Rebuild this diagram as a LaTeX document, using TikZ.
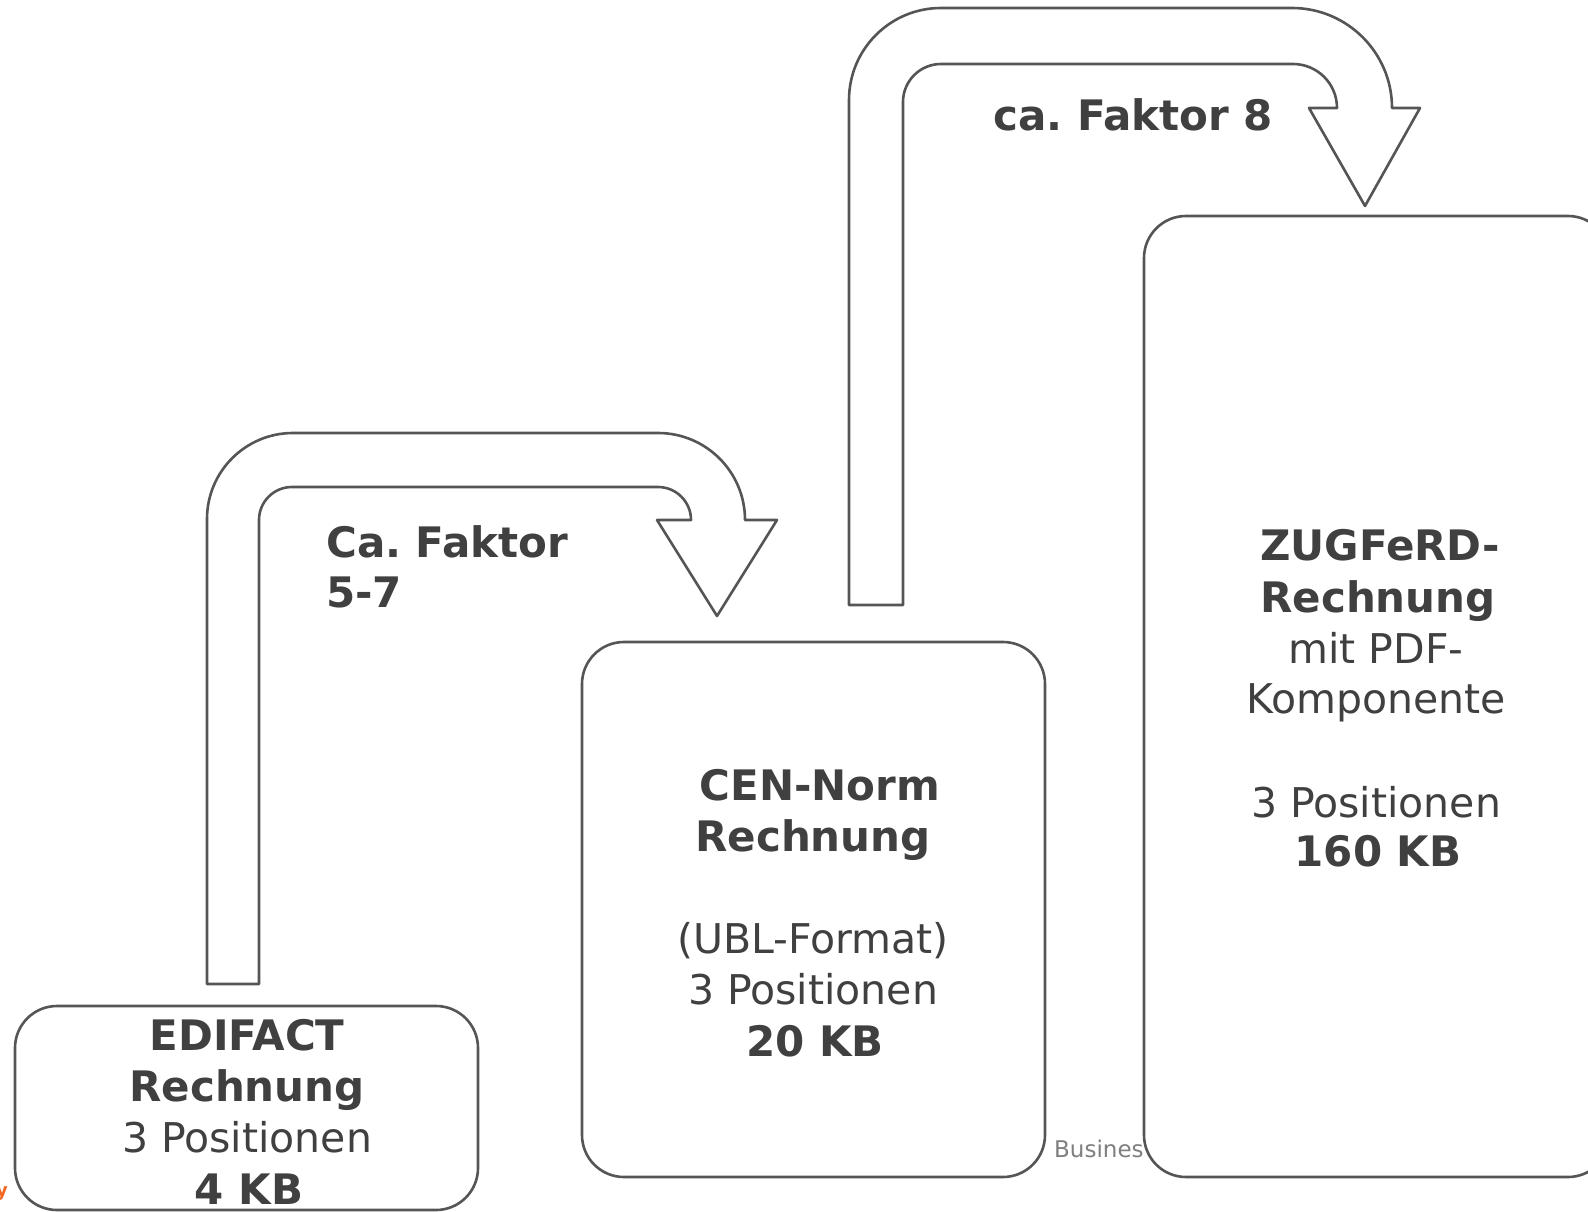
\documentclass[tikz,border=0pt]{standalone}
\usepackage{fontspec}
\setmainfont{DejaVu Sans}
\frenchspacing
\definecolor{linegray}{HTML}{555555}
\definecolor{textgray}{HTML}{404040}
\definecolor{footgray}{HTML}{7F7F7F}
\definecolor{brandorange}{HTML}{F26522}
\tikzset{
  outline/.style={draw=linegray, line width=2.6pt, line join=round, fill=white},
  docbox/.style={outline, rounded corners=42pt},
  txt/.style={anchor=base, text=textgray, inner sep=0pt, font=\fontsize{41}{50}\selectfont},
  btxt/.style={txt, font=\fontsize{42}{50}\selectfont\bfseries},
}
\begin{document}
\begin{tikzpicture}[x=1pt,y=-1pt]
\useasboundingbox (0,0) rectangle (1588,1212);
\fill[white] (0,0) rectangle (1588,1212);

% footer remnants
\node[anchor=base east, inner sep=0pt, text=brandorange, font=\fontsize{18}{20}\selectfont\bfseries] (brand) at (8,1196) {y};
\node[anchor=base west, inner sep=0pt, text=footgray, font=\fontsize{23}{25}\selectfont] (foot) at (1054,1157) {Busines};

% boxes
\draw[docbox] (15,1006) rectangle (478,1210);
\draw[docbox] (582,642) rectangle (1045,1177);
\draw[docbox] (1144,216) rectangle (1610,1177);

% arrow 1
\draw[outline] (207,984) -- (207,519) arc[start angle=180,end angle=270,radius=86]
  -- (658,433) arc[start angle=-90,end angle=0,radius=87]
  -- (777,520) -- (717,616) -- (657,520) -- (691,520)
  arc[start angle=0,end angle=-90,radius=33]
  -- (292,487) arc[start angle=-90,end angle=-180,radius=33]
  -- (259,984) -- cycle;

% arrow 2
\draw[outline] (849,605) -- (849,100) arc[start angle=180,end angle=270,radius=92]
  -- (1292,8) arc[start angle=-90,end angle=0,radius=100]
  -- (1420,108) -- (1365,206) -- (1309,108) -- (1337,108)
  arc[start angle=0,end angle=-90,radius=44]
  -- (941,64) arc[start angle=-90,end angle=-180,radius=38]
  -- (903,605) -- cycle;

% arrow labels
\node[btxt, anchor=base west] (f1a) at (326,557) {Ca. Faktor};
\node[btxt, anchor=base west] (f1b) at (326,607) {5-7};
\node[btxt, anchor=base west] (f2) at (993,131) {ca. Faktor 8};

% EDIFACT
\node[btxt] (e1) at (247,1050) {EDIFACT};
\node[btxt] (e2) at (247,1101) {Rechnung};
\node[txt]  (e3) at (247,1152) {3 Positionen};
\node[btxt] (e4) at (249,1204) {4 KB};

% CEN
\node[btxt] (c1) at (820,800) {CEN-Norm};
\node[btxt] (c2) at (813,851) {Rechnung};
\node[txt]  (c3) at (813,953) {(UBL-Format)};
\node[txt]  (c4) at (813,1004) {3 Positionen};
\node[btxt] (c5) at (815,1056) {20 KB};

% ZUGFeRD
\node[btxt] (z1) at (1380,560) {ZUGFeRD-};
\node[btxt] (z2) at (1378,612) {Rechnung};
\node[txt]  (z3) at (1376,663) {mit PDF-};
\node[txt]  (z4) at (1376,713) {Komponente};
\node[txt]  (z5) at (1376,817) {3 Positionen};
\node[btxt] (z6) at (1378,866) {160 KB};
\end{tikzpicture}
\end{document}
